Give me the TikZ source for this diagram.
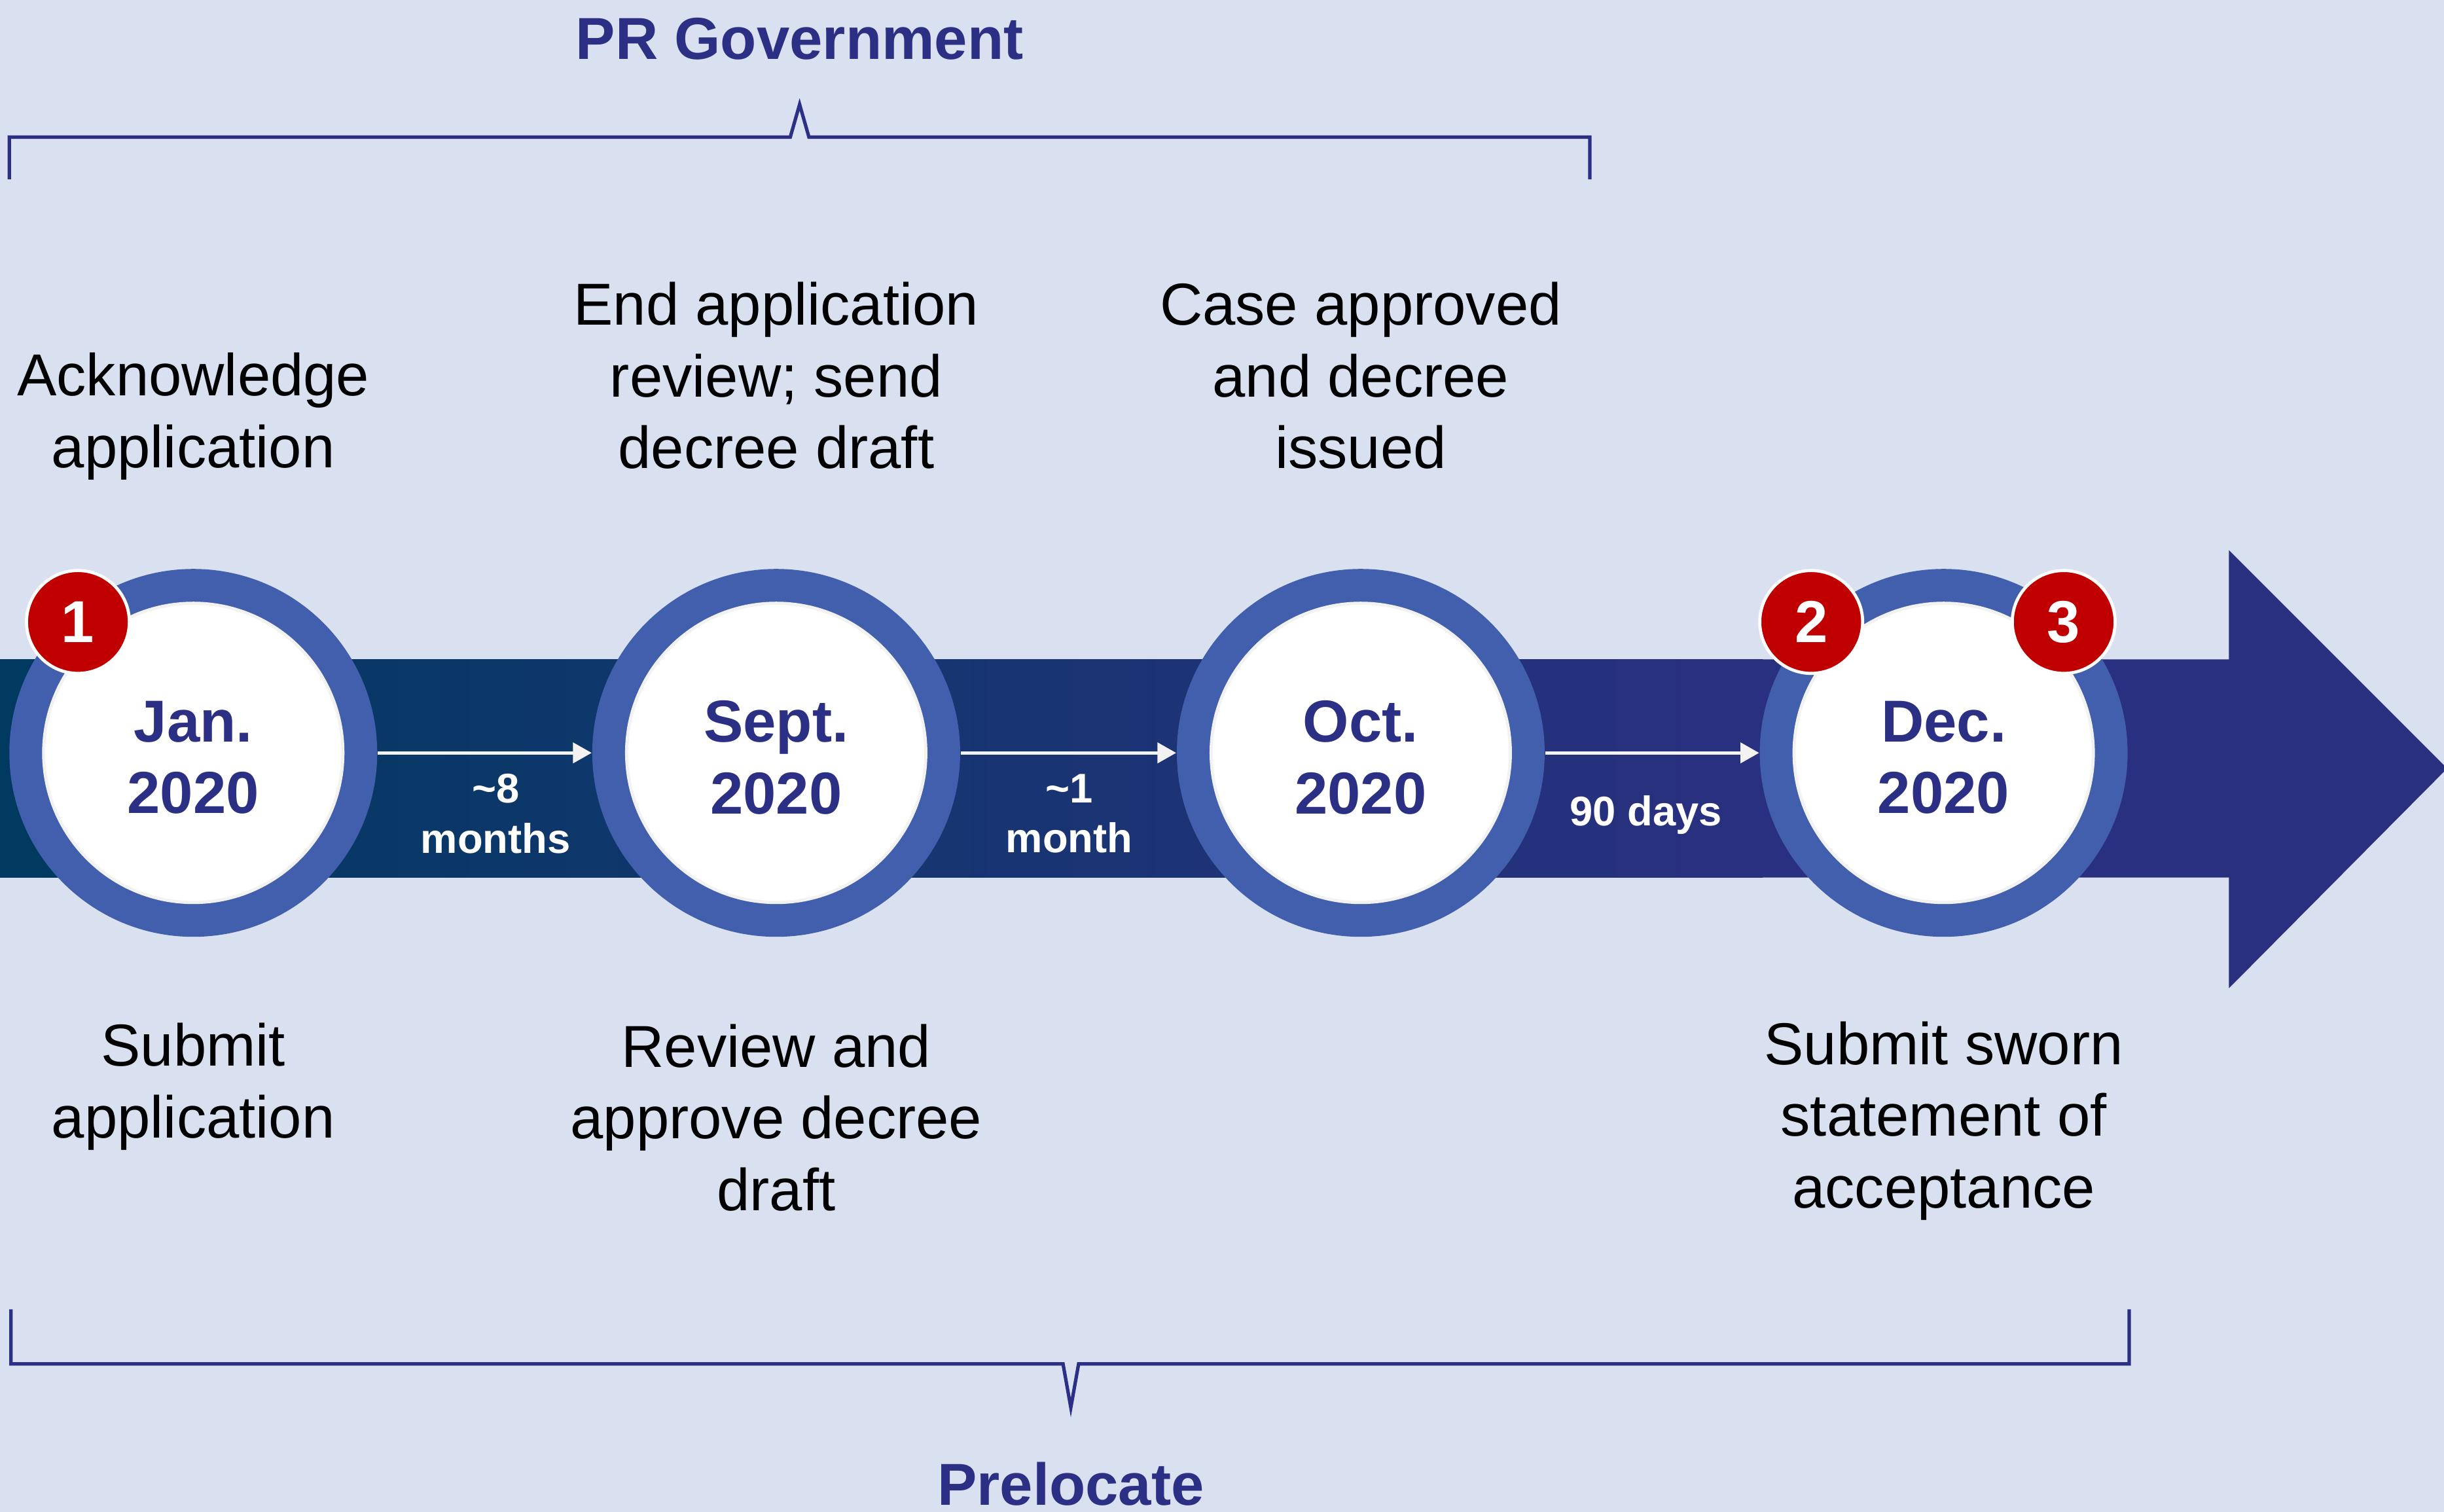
\documentclass[tikz,border=0pt]{standalone}
\usepackage{fontspec}
\setmainfont{Liberation Sans}
\usetikzlibrary{arrows.meta}
\definecolor{bgc}{HTML}{D9E0F0}
\definecolor{navy}{HTML}{2B3085}
\definecolor{bandL}{HTML}{003A60}
\definecolor{bandR}{HTML}{2A3080}
\definecolor{ringc}{HTML}{415FAC}
\definecolor{badgec}{HTML}{C00000}
\definecolor{lightg}{HTML}{F2F2F2}
\tikzset{
  ring/.style={circle, fill=ringc, minimum size=118pt, inner sep=0pt},
  disc/.style={circle, fill=white, draw=lightg, line width=1pt, minimum size=96pt, inner sep=0pt,
     align=center, text=navy, font=\fontsize{19}{23}\selectfont\bfseries},
  badge/.style={circle, fill=badgec, draw=white, line width=1pt, minimum size=33pt, inner sep=0pt,
     text=white, font=\fontsize{19}{23}\selectfont\bfseries},
  desc/.style={align=center, text=black, font=\fontsize{19}{23}\selectfont},
  dur/.style={align=center, text=white, font=\fontsize{13.3}{16}\selectfont\bfseries},
  conn/.style={draw=lightg, line width=1pt, -{Triangle[length=6pt,width=6.5pt]}},
  brace/.style={draw=navy, line width=1.1pt, line join=miter},
  title/.style={text=navy, font=\fontsize{19}{23}\selectfont\bfseries},
}
\begin{document}
\begin{tikzpicture}[x=0.5pt,y=-0.5pt]
\useasboundingbox (0,0) rectangle (1568,970);
\fill[bgc] (0,0) rectangle (1568,970);
% band and arrow
\shade[left color=bandL, right color=bandR] (0,423) rectangle (1131,563);
\fill[bandR] (1130,423) -- (1430,423) -- (1430,353) -- (1570,493) -- (1430,634) -- (1430,563) -- (1130,563) -- cycle;
% rings
\node[ring] (r1) at (124,483) {};
\node[ring] (r2) at (498,483) {};
\node[ring] (r3) at (873,483) {};
\node[ring] (r4) at (1247,483) {};
\node[disc] (d1) at (124,483) {};
\node[disc] (d2) at (498,483) {};
\node[disc] (d3) at (873,483) {};
\node[disc] (d4) at (1247,483) {};
\node[disc, draw=none, fill=none] (l1) at (124,486) {Jan.\\2020};
\node[disc, draw=none, fill=none] (l2) at (498,486) {Sept.\\2020};
\node[disc, draw=none, fill=none] (l3) at (873,486) {Oct.\\2020};
\node[disc, draw=none, fill=none] (l4) at (1247,486) {Dec.\\2020};
% badges
\node[badge] (b1) at (50,399) {1};
\node[badge] (b2) at (1162,399) {2};
\node[badge] (b3) at (1324,399) {3};
% connectors
\draw[conn] (r1.east) -- (r2.west);
\draw[conn] (r2.east) -- (r3.west);
\draw[conn] (r3.east) -- (r4.west);
\node[dur] (t1) at (318,522) {\textasciitilde8\\months};
\node[dur] (t2) at (686,522) {\textasciitilde1\\month};
\node[dur] (t3) at (1056,523) {90 days};
% descriptions
\node[desc] (a1) at (124,267) {Acknowledge\\application};
\node[desc] (a2) at (498,241) {End application\\review; send\\decree draft};
\node[desc] (a3) at (873,241) {Case approved\\and decree\\issued};
\node[desc] (s1) at (124,697) {Submit\\application};
\node[desc] (s2) at (498,717) {Review and\\approve decree\\draft};
\node[desc] (s4) at (1247,719) {Submit sworn\\statement of\\acceptance};
% braces
\draw[brace] (6,115) -- (6,88) -- (507,88) -- (513,67) -- (519,88) -- (1020,88) -- (1020,115);
\node[title] (pr) at (513,25) {PR Government};
\draw[brace] (7,840) -- (7,875) -- (682,875) -- (687,903) -- (692,875) -- (1366,875) -- (1366,840);
\node[title] (pl) at (687,952) {Prelocate};
\end{tikzpicture}
\end{document}
